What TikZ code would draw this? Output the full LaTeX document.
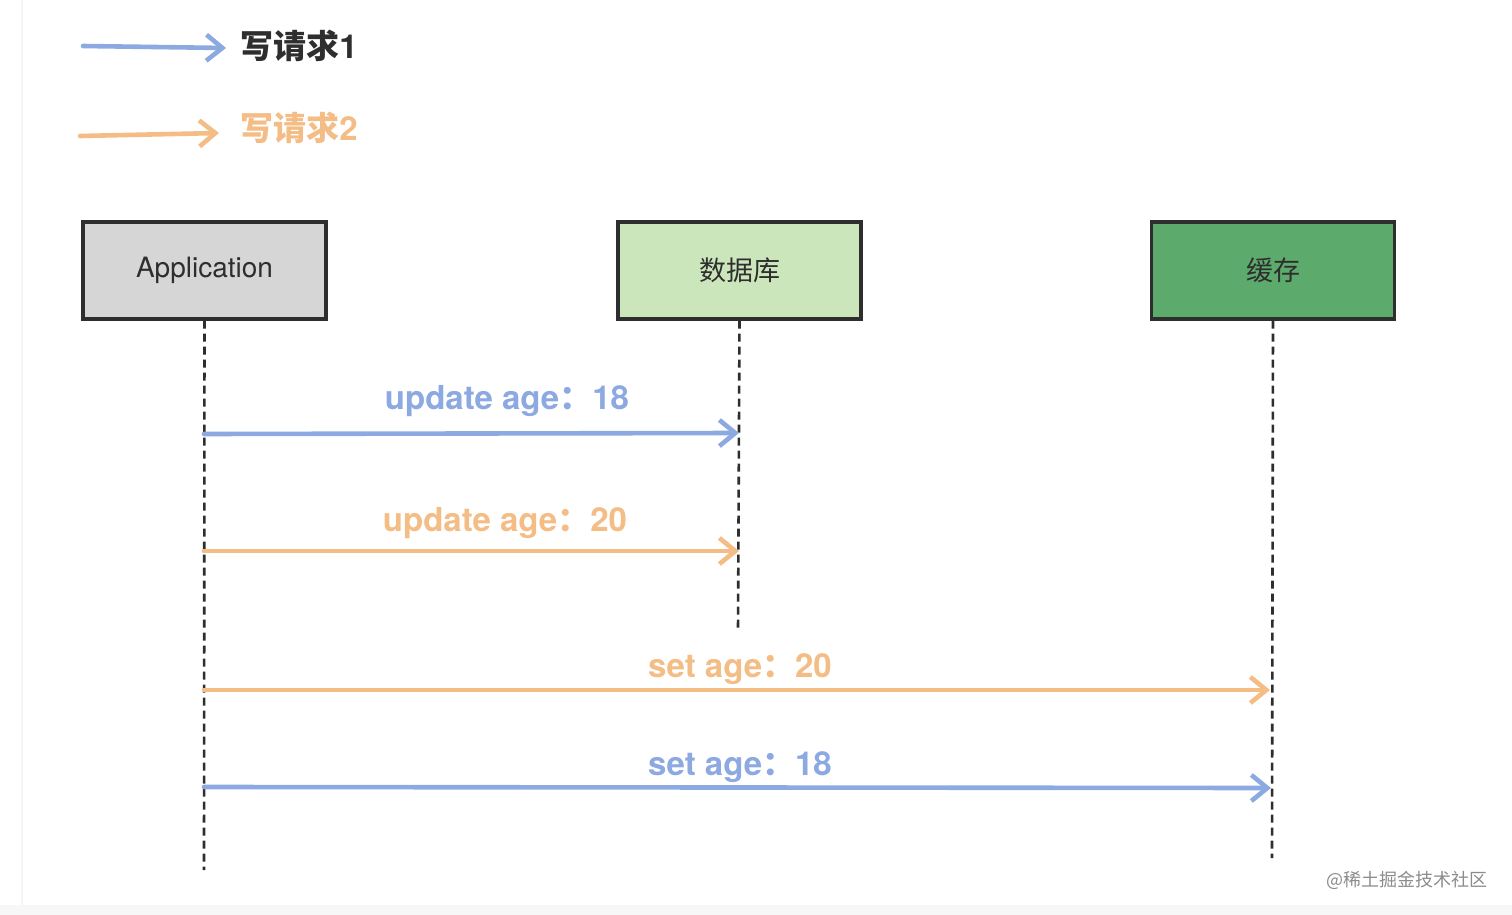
\documentclass[tikz,border=0pt]{standalone}
\usepackage{fontspec}
\setmainfont{Noto Sans CJK SC}
\newfontfamily\lat{texgyreheros-regular.otf}
\newfontfamily\latbx{texgyreheros-bold.otf}
\newcommand\latb{\mdseries\latbx}
\usetikzlibrary{arrows.meta}
\definecolor{reqblue}{HTML}{8DA9E2}
\definecolor{reqorange}{HTML}{F4BD86}
\definecolor{appfill}{HTML}{D6D6D6}
\definecolor{dbfill}{HTML}{CCE6BC}
\definecolor{cachefill}{HTML}{5DAB6C}
\definecolor{inkdark}{HTML}{2E2E2E}
\tikzset{
  actor/.style={draw=inkdark, line width=1.6pt, minimum width=121.5pt, minimum height=48.5pt, inner sep=0pt, font=\fontsize{13.5}{16}\selectfont, text=inkdark},
  lifeline/.style={draw=inkdark, line width=1.3pt, dash pattern=on 4pt off 2.5pt},
  msg/.style={line width=2.3pt, line cap=round, -{Straight Barb[length=8pt,width=13pt,line width=2.3pt]}},
  msglabel/.style={font=\bfseries\fontsize{16.5}{19}\selectfont, inner sep=0pt},
}
\begin{document}
\begin{tikzpicture}[x=0.5pt,y=-0.5pt]
\useasboundingbox (0,0) rectangle (1512,915);
\fill[white] (0,0) rectangle (1512,915);
\draw[black!4, line width=1pt] (22,0) -- (22,915);
\fill[black!3] (0,905) rectangle (1512,915);

% legend
\coordinate (l1a) at (83,46);
\coordinate (l1b) at (226,48);
\draw[msg, reqblue] (l1a) -- (l1b);
\node[msglabel, text=inkdark, anchor=west] (leg1) at (240,46) {写请求{\latb 1}};
\coordinate (l2a) at (80,136);
\coordinate (l2b) at (219,133);
\draw[msg, reqorange] (l2a) -- (l2b);
\node[msglabel, text=reqorange, anchor=west] (leg2) at (240,128) {写请求{\latb 2}};

% actors
\node[actor, fill=appfill, font=\lat\fontsize{14}{16}\selectfont] (app) at (204.5,270.5) {Application};
\node[actor, fill=dbfill] (db) at (739.5,270.5) {数据库};
\node[actor, fill=cachefill] (cache) at (1273,270.5) {缓存};

% lifelines
\coordinate (append) at (204,870);
\coordinate (dbend) at (738,632);
\coordinate (cacheend) at (1272,858);
\draw[lifeline] (app.south) -- (append);
\draw[lifeline] (db.south) -- (dbend);
\draw[lifeline] (cache.south) -- (cacheend);

% messages
\coordinate (m1a) at (204,434);
\coordinate (m1b) at (739,433);
\draw[msg, reqblue] (m1a) -- (m1b);
\node[msglabel, text=reqblue] (t1) at (507,401) {{\latb update age}：{\latb 18}};

\coordinate (m2a) at (204,551);
\coordinate (m2b) at (739,551);
\draw[msg, reqorange] (m2a) -- (m2b);
\node[msglabel, text=reqorange] (t2) at (505,523) {{\latb update age}：{\latb 20}};

\coordinate (m3a) at (204,690);
\coordinate (m3b) at (1270,690);
\draw[msg, reqorange] (m3a) -- (m3b);
\node[msglabel, text=reqorange] (t3) at (740,669) {{\latb set age}：{\latb 20}};

\coordinate (m4a) at (204,787);
\coordinate (m4b) at (1271,788);
\draw[msg, reqblue] (m4a) -- (m4b);
\node[msglabel, text=reqblue] (t4) at (740,767) {{\latb set age}：{\latb 18}};

% watermark
\node[font=\fontsize{9}{11}\selectfont, text=black!45, anchor=east, inner sep=0pt] (wm) at (1488,880) {@稀土掘金技术社区};
\end{tikzpicture}
\end{document}
